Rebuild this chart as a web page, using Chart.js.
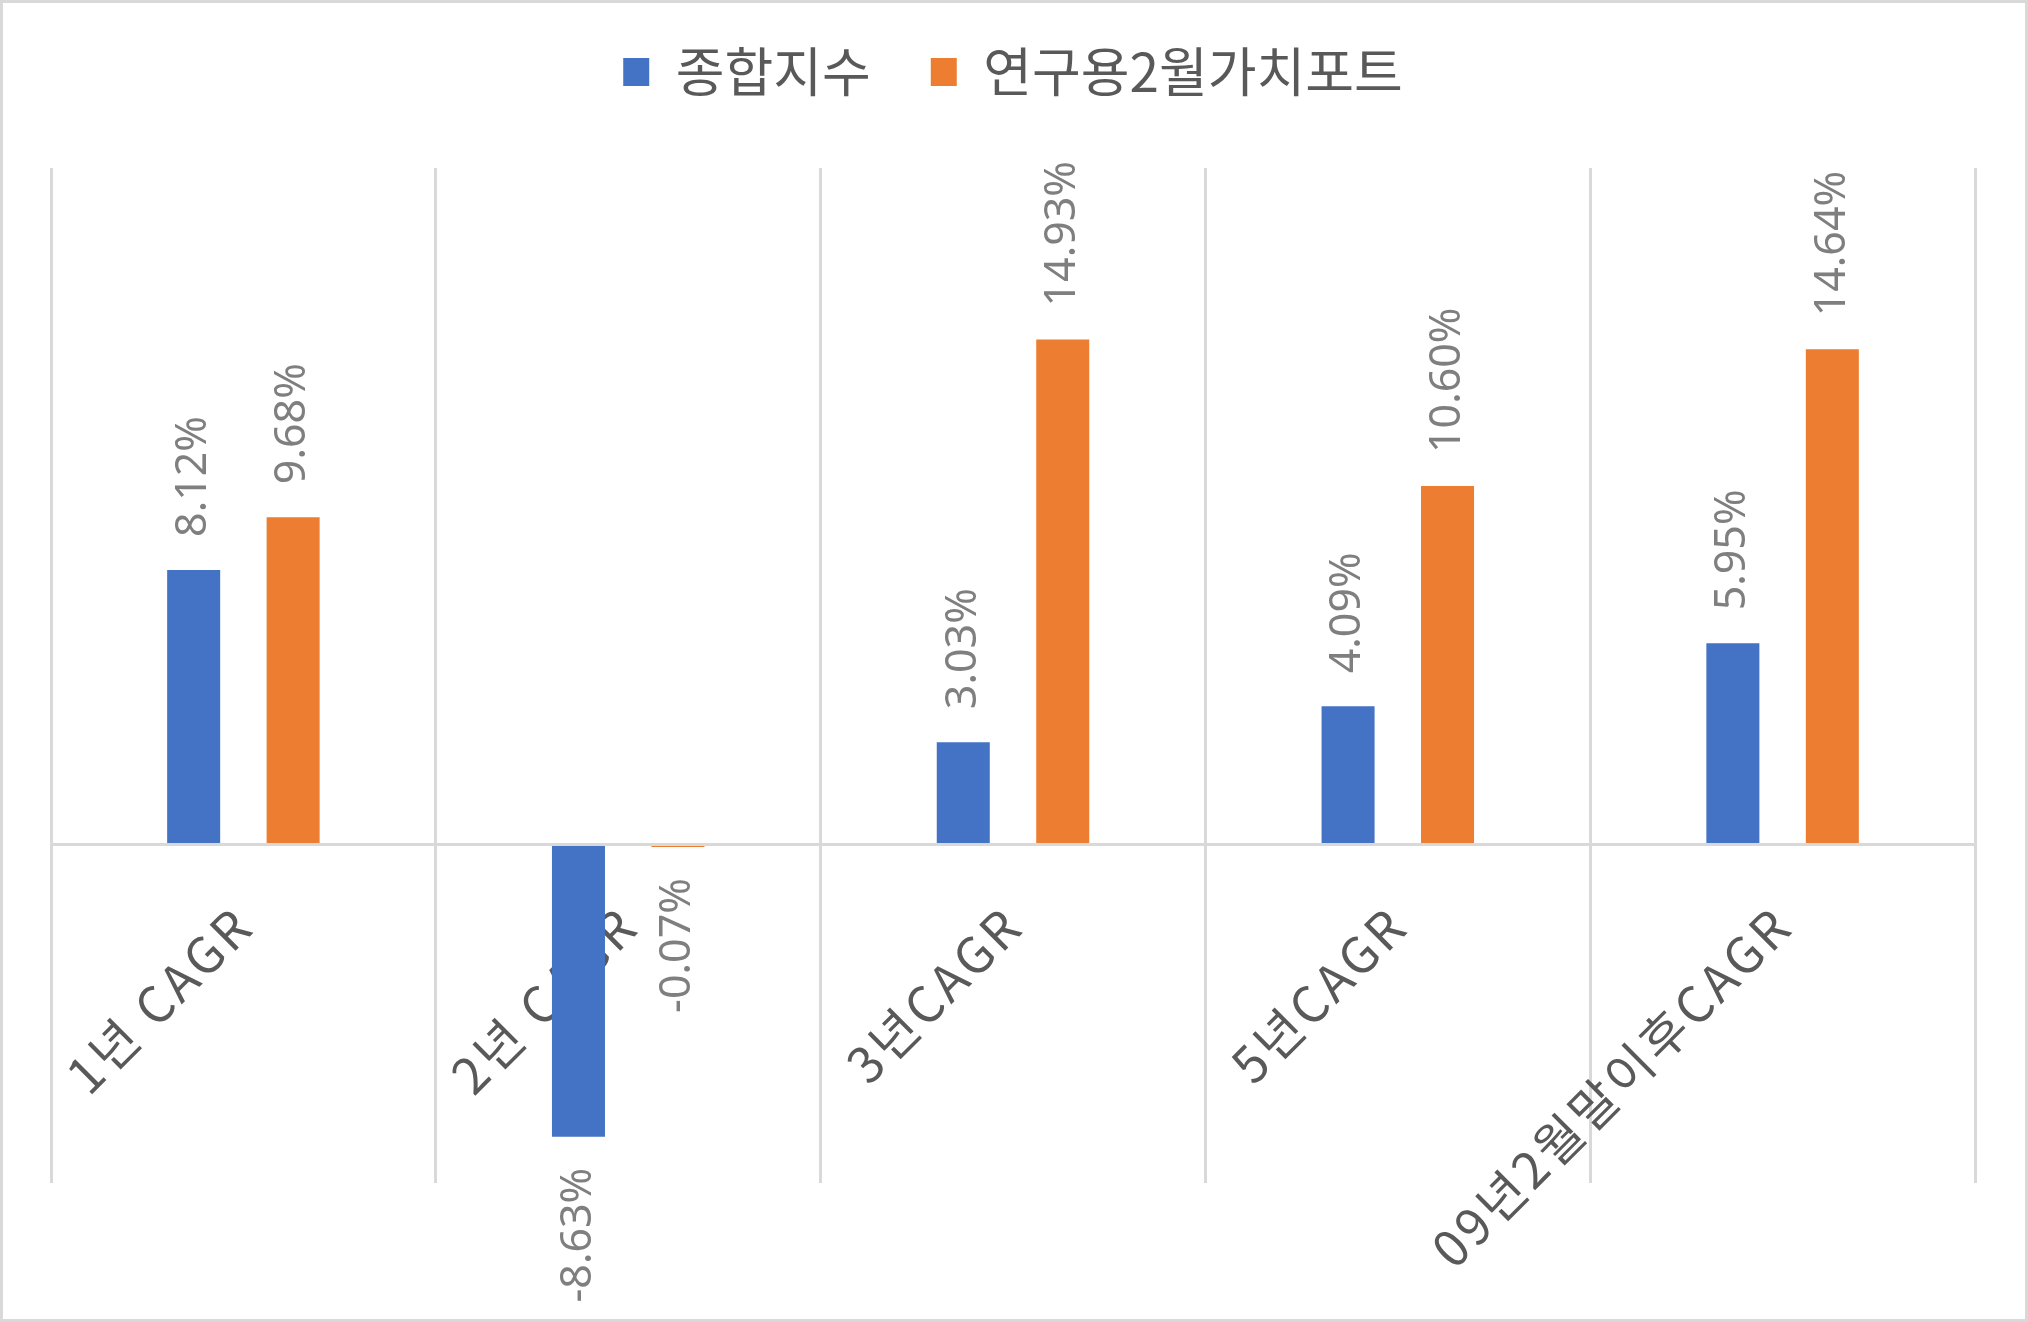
<!DOCTYPE html>
<html>
<head>
<meta charset="utf-8">
<script src="https://cdn.jsdelivr.net/npm/chart.js@4.4.1/dist/chart.umd.min.js"></script>
<style>
  html, body { margin: 0; padding: 0; background: #ffffff; }
  canvas { display: block; }
</style>
</head>
<body>
<canvas id="c" width="2028" height="1322"></canvas>
<script>
// ---- data ----
const categories = ['1년 CAGR', '2년 CAGR', '3년CAGR', '5년CAGR', '09년2월말이후CAGR'];
const seriesNames = ['종합지수', '연구용2월가치포트'];
const compositeIndex = [8.12, -8.63, 3.03, 4.09, 5.95];
const valuePortfolio = [9.68, -0.07, 14.93, 10.60, 14.64];
const yMin = -10;
const yMax = 20;

const KR_FONT = '"Noto Sans CJK KR", "Noto Sans", sans-serif';
const NUM_FONT = '"Noto Sans", "DejaVu Sans", sans-serif';

const frame = {
  id: 'frame',
  beforeDraw(chart) {
    const ctx = chart.ctx;
    ctx.save();
    ctx.fillStyle = '#ffffff';
    ctx.fillRect(0, 0, chart.width, chart.height);
    ctx.restore();
    // category labels of the axis are drawn with a little letter spacing
    const s = chart.scales.x;
    if (s && !s._spaced) {
      const orig = s.drawLabels;
      s.drawLabels = function (area) {
        const c = this.ctx;
        c.save();
        c.letterSpacing = '3.5px';
        orig.call(this, area);
        c.restore();
      };
      s._spaced = true;
    }
  },
  afterDraw(chart) {
    const ctx = chart.ctx;
    ctx.save();
    ctx.strokeStyle = '#d9d9d9';
    ctx.lineWidth = 3;
    ctx.strokeRect(1.5, 1.5, chart.width - 3, chart.height - 3);
    ctx.restore();
  }
};

const valueLabels = {
  id: 'valueLabels',
  afterDatasetsDraw(chart) {
    const ctx = chart.ctx;
    ctx.save();
    ctx.font = '43px ' + NUM_FONT;
    ctx.fillStyle = '#7f7f7f';
    ctx.textBaseline = 'middle';
    chart.data.datasets.forEach((ds, di) => {
      const meta = chart.getDatasetMeta(di);
      meta.data.forEach((bar, i) => {
        const v = ds.data[i];
        const text = v.toFixed(2) + '%';
        ctx.save();
        if (v >= 0) {
          ctx.translate(bar.x, bar.y - 33);
          ctx.rotate(-Math.PI / 2);
          ctx.textAlign = 'left';
        } else {
          ctx.translate(bar.x, bar.y + 31);
          ctx.rotate(-Math.PI / 2);
          ctx.textAlign = 'right';
        }
        ctx.fillText(text, 0, 0);
        ctx.restore();
      });
    });
    ctx.restore();
  }
};

function draw() {
  new Chart(document.getElementById('c'), {
    type: 'bar',
    data: {
      labels: categories,
      datasets: [
        { label: seriesNames[0], data: compositeIndex, backgroundColor: '#4472C4', borderWidth: 0,
          categoryPercentage: 0.517, barPercentage: 0.533 },
        { label: seriesNames[1], data: valuePortfolio, backgroundColor: '#ED7D31', borderWidth: 0,
          categoryPercentage: 0.517, barPercentage: 0.533 }
      ]
    },
    options: {
      responsive: false,
      animation: false,
      devicePixelRatio: 1,
      layout: { padding: { top: -14.5, left: 51, right: 53, bottom: 139 } },
      plugins: {
        legend: {
          position: 'top',
          weight: 3000,
          labels: {
            boxWidth: 26,
            boxHeight: 28,
            padding: 60,
            color: '#595959',
            font: { family: KR_FONT, size: 53 }
          }
        },
        title: {
          display: true,
          text: '',
          padding: { top: 0, bottom: 49.5 },
          font: { size: 10, lineHeight: 1 }
        },
        tooltip: { enabled: false }
      },
      scales: {
        x: {
          position: { y: 0 },
          offset: true,
          grid: { display: true, offset: true, color: '#d9d9d9', lineWidth: 3, drawTicks: false },
          border: { display: true, color: '#d9d9d9', width: 3, z: 1 },
          ticks: {
            autoSkip: false,
            minRotation: 45,
            maxRotation: 45,
            padding: 50,
            color: '#595959',
            font: { family: KR_FONT, size: 50 }
          }
        },
        y: {
          display: false,
          min: yMin,
          max: yMax
        }
      }
    },
    plugins: [frame, valueLabels]
  });
}

if (document.fonts && document.fonts.ready) {
  document.fonts.ready.then(draw);
} else {
  draw();
}
</script>
</body>
</html>
